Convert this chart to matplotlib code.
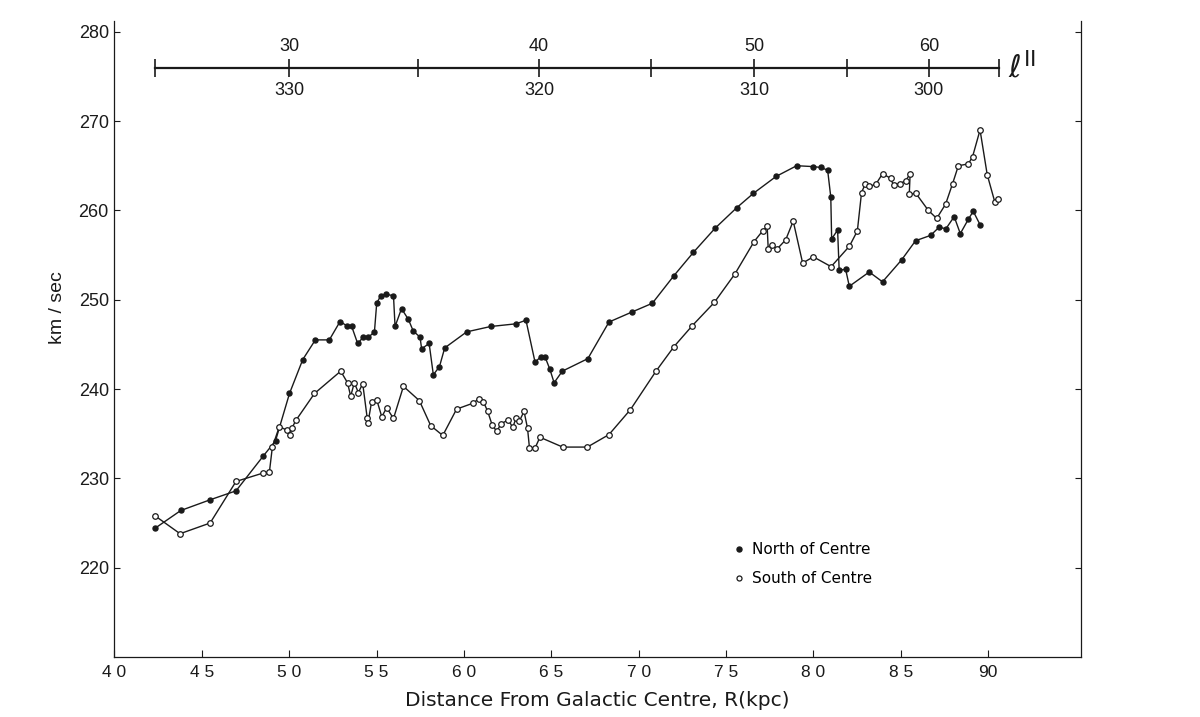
import numpy as np
import matplotlib
matplotlib.use('Agg')
import matplotlib.pyplot as plt
from matplotlib.lines import Line2D

plt.rcParams['font.family'] = ['Liberation Sans', 'DejaVu Sans']

# distance from galactic centre (x10 kpc units as on the axis) and velocity (km/sec)
r_north = [42.32, 43.80, 45.48, 46.96, 48.52, 49.22, 50.02, 50.78, 51.50, 52.30,
           52.91, 53.29, 53.58, 53.92, 54.24, 54.54, 54.88, 55.01, 55.24, 55.54,
           55.97, 56.06, 56.43, 56.82, 57.10, 57.49, 57.58, 58.01, 58.25, 58.60,
           58.90, 60.16, 61.53, 62.98, 63.55, 64.07, 64.39, 64.64, 64.92, 65.16,
           65.63, 67.09, 68.30, 69.59, 70.78, 72.02, 73.13, 74.37, 75.61, 76.56,
           77.86, 79.04, 79.99, 80.43, 80.81, 80.99, 81.04, 81.38, 81.47, 81.84,
           82.05, 83.19, 83.95, 85.04, 85.84, 86.70, 87.18, 87.58, 88.05, 88.40,
           88.86, 89.14, 89.53]
v_north = [224.4, 226.4, 227.6, 228.6, 232.5, 234.2, 239.5, 243.3, 245.5, 245.5,
           247.55, 247.1, 247.0, 245.1, 245.8, 245.8, 246.4, 249.6, 250.45, 250.6,
           250.45, 247.0, 249.0, 247.8, 246.5, 245.8, 244.5, 245.1, 241.6, 242.5,
           244.6, 246.4, 247.0, 247.3, 247.7, 243.0, 243.6, 243.6, 242.2, 240.7,
           242.0, 243.4, 247.5, 248.6, 249.6, 252.7, 255.3, 258.0, 260.3, 261.9,
           263.8, 265.0, 264.9, 264.8, 264.5, 261.5, 256.8, 257.8, 253.3, 253.4,
           251.5, 253.1, 252.0, 254.45, 256.6, 257.2, 258.1, 257.95, 259.3, 257.4,
           259.0, 259.9, 258.4]

r_south = [42.33, 43.76, 45.48, 46.96, 48.52, 48.87, 49.04, 49.44, 49.86, 50.06,
           50.15, 50.39, 51.45, 52.95, 53.34, 53.52, 53.73, 53.96, 54.21, 54.47,
           54.51, 54.72, 55.01, 55.30, 55.58, 55.97, 56.54, 57.45, 58.10, 58.79,
           59.58, 60.50, 60.86, 61.11, 61.36, 61.61, 61.88, 62.12, 62.54, 62.79,
           62.98, 63.17, 63.44, 63.64, 63.75, 64.07, 64.35, 65.65, 67.06, 68.30,
           69.53, 70.99, 72.02, 73.07, 74.33, 75.51, 76.60, 77.09, 77.35, 77.41,
           77.61, 77.93, 78.41, 78.84, 79.38, 79.99, 81.01, 82.06, 82.51, 82.75,
           82.95, 83.18, 83.56, 83.95, 84.41, 84.58, 84.93, 85.27, 85.53, 85.48,
           85.86, 86.57, 87.05, 87.56, 87.96, 88.29, 88.86, 89.10, 89.53, 89.94,
           90.38, 90.53]
v_south = [225.8, 223.8, 225.0, 229.65, 230.6, 230.7, 233.5, 235.8, 235.4, 234.9,
           235.6, 236.5, 239.5, 242.0, 240.7, 239.2, 240.7, 239.6, 240.6, 236.7,
           236.2, 238.6, 238.8, 236.9, 237.9, 236.7, 240.3, 238.7, 235.9, 234.8,
           237.75, 238.4, 238.9, 238.6, 237.5, 236.0, 235.25, 236.1, 236.55, 235.7,
           236.7, 236.4, 237.5, 235.6, 233.4, 233.4, 234.6, 233.5, 233.5, 234.9,
           237.7, 242.0, 244.75, 247.1, 249.7, 252.9, 256.5, 257.7, 258.2, 255.7,
           256.1, 255.7, 256.7, 258.8, 254.1, 254.8, 253.7, 256.0, 257.7, 262.0,
           262.9, 262.7, 262.9, 264.1, 263.6, 262.8, 263.0, 263.3, 264.1, 261.8,
           261.9, 260.0, 259.1, 260.7, 263.0, 265.0, 265.2, 266.0, 269.0, 264.0,
           260.9, 261.3]

# galactic longitude scale along the top
lii_pos = [42.3, 50.0, 57.4, 64.3, 70.7, 76.6, 81.9, 86.6, 90.6]
lii_upper = ['', '30', '', '40', '', '50', '', '60', '']
lii_lower = ['', '330', '', '320', '', '310', '', '300', '']
lii_level = 275.9

x_ticks = [40, 45, 50, 55, 60, 65, 70, 75, 80, 85, 90]
x_ticklabels = ['4 0', '4 5', '5 0', '5 5', '6 0', '6 5', '7 0', '7 5', '8 0', '8 5', '90']
y_ticks = [220, 230, 240, 250, 260, 270, 280]

ink = '#1a1a1a'

fig = plt.figure(figsize=(12, 7.17), dpi=100)
ax = fig.add_axes([0.0953, 0.0837, 0.8053, 0.887])

ax.plot(r_north, v_north, '-', color=ink, lw=1.0, marker='o', ms=3.6,
        mfc=ink, mec=ink, zorder=3)
ax.plot(r_south, v_south, '-', color=ink, lw=1.0, marker='o', ms=4.0,
        mfc='white', mec=ink, mew=0.9, zorder=3)

# top scale bar
ax.plot([lii_pos[0], lii_pos[-1]], [lii_level, lii_level], '-', color=ink, lw=1.6)
ax.plot(lii_pos, [lii_level] * len(lii_pos), linestyle='none', marker='|',
        ms=13, mew=1.2, color=ink)
for p, up, lo in zip(lii_pos, lii_upper, lii_lower):
    if up:
        ax.annotate(up, (p, lii_level), xytext=(0, 16), textcoords='offset points',
                    ha='center', va='center', fontsize=13, color=ink)
    if lo:
        ax.annotate(lo, (p, lii_level), xytext=(0, -16), textcoords='offset points',
                    ha='center', va='center', fontsize=13, color=ink)
ax.annotate(r'$\ell^{\mathrm{II}}$', (lii_pos[-1], lii_level), xytext=(7, 0),
            textcoords='offset points', ha='left', va='center', fontsize=22, color=ink)

ax.set_xlim(40, 95.29)
ax.set_ylim(210, 281.2)

ax.set_xticks(x_ticks)
ax.set_xticklabels(x_ticklabels)
ax.set_yticks(y_ticks)
ax.tick_params(axis='x', direction='in', length=5, width=0.8, pad=6,
               labelsize=12.5, colors=ink)
ax.tick_params(axis='y', direction='in', length=4, width=0.8, pad=4,
               labelsize=13, colors=ink, right=True)

ax.spines['top'].set_visible(False)
for s in ['left', 'right', 'bottom']:
    ax.spines[s].set_linewidth(0.9)
    ax.spines[s].set_color(ink)

ax.set_xlabel('Distance From Galactic Centre, R(kpc)', fontsize=14.5,
              family=['DejaVu Sans'], color=ink)
ax.xaxis.set_label_coords(0.50, -0.054)
ax.set_ylabel('km / sec', fontsize=14, color=ink)
ax.yaxis.set_label_coords(-0.050, 0.55)

handles = [Line2D([], [], linestyle='none', marker='o', ms=3.6, mfc=ink, mec=ink),
           Line2D([], [], linestyle='none', marker='o', ms=3.6, mfc='white', mec=ink, mew=0.9)]
ax.legend(handles, ['North of Centre', 'South of Centre'], loc='upper left',
          bbox_to_anchor=(0.642, 0.181), borderaxespad=0, borderpad=0,
          handlelength=0.6, handletextpad=0.5, labelspacing=0.92, frameon=False,
          prop={'family': 'DejaVu Sans', 'size': 11})

fig.savefig('out.png', dpi=100, facecolor='white')
